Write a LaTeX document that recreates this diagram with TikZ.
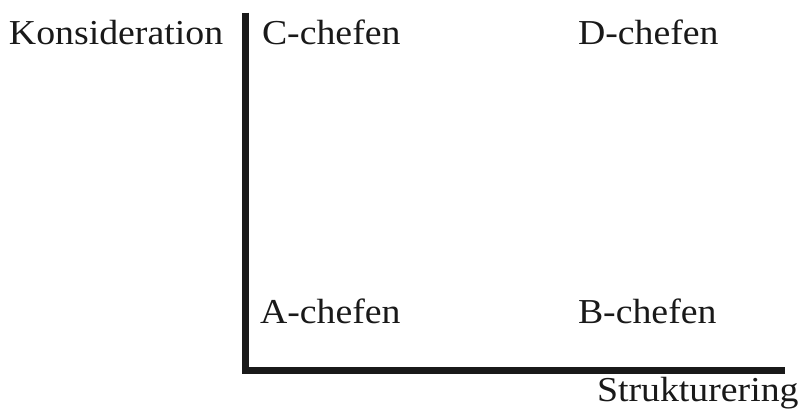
\documentclass[tikz,border=0pt]{standalone}
\usepackage{fontspec}
\setmainfont[FakeStretch=1.08]{Liberation Serif}
\begin{document}
\begin{tikzpicture}[x=1pt,y=1pt,
  lbl/.style={anchor=base west,inner sep=0pt,outer sep=0pt,font=\fontsize{35}{40}\selectfont,text=black!90},
  axis/.style={line width=7pt,black!90}]
\useasboundingbox (0,0) rectangle (799,416);
\coordinate (vtop) at (245.5,403.3);
\coordinate (vbot) at (245.5,46);
\coordinate (hleft) at (242,45.3);
\coordinate (hright) at (785,45.3);
\draw[axis] (vtop) -- (vbot);
\draw[axis] (hleft) -- (hright);
\node[lbl] (kons) at (9,371) {Konsideration};
\node[lbl] (c) at (262,371) {C-chefen};
\node[lbl] (d) at (578,371) {D-chefen};
\node[lbl] (a) at (260,92.7) {A-chefen};
\node[lbl] (b) at (578,92.7) {B-chefen};
\node[lbl] (s) at (597,15) {Strukturering};
\end{tikzpicture}
\end{document}
